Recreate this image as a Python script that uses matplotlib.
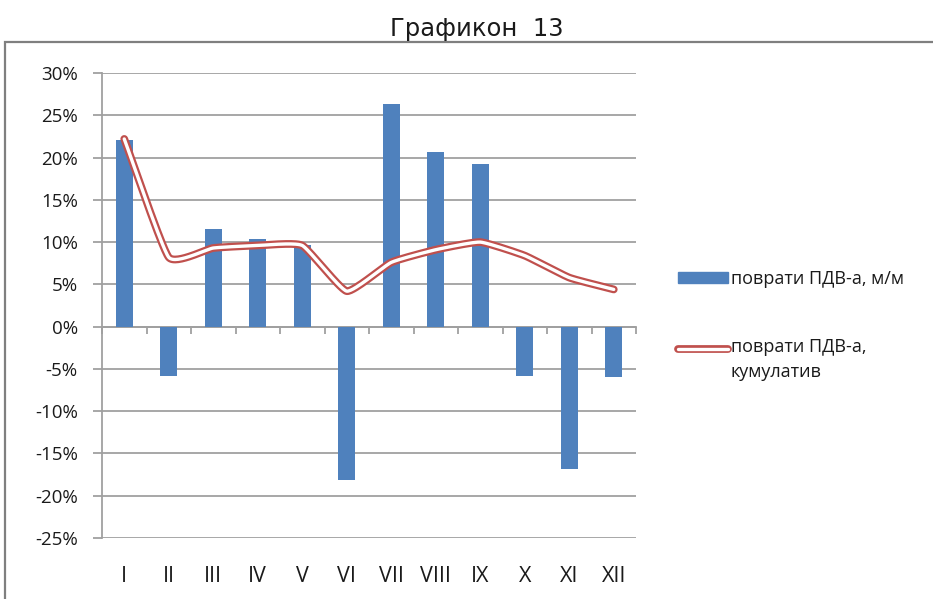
import numpy as np
import matplotlib
matplotlib.use("Agg")
import matplotlib.pyplot as plt
import matplotlib.patheffects as pe
from matplotlib.patches import Rectangle, Patch
from matplotlib.legend_handler import HandlerLine2D
from matplotlib.ticker import FuncFormatter, FixedLocator

months = ["I", "II", "III", "IV", "V", "VI", "VII", "VIII", "IX", "X", "XI", "XII"]
mm = [22.1, -5.8, 11.5, 10.4, 9.7, -18.1, 26.3, 20.7, 19.2, -5.8, -16.8, -6.0]
cum = [22.2, 8.2, 9.3, 9.6, 9.6, 4.2, 7.6, 9.1, 10.0, 8.4, 5.8, 4.4]
title = "Графикон  13"
label_mm = "поврати ПДВ-а, м/м"
label_cum = "поврати ПДВ-а,\nкумулатив"

BLUE = "#4F81BD"
RED = "#C0504D"
GRID = "#A0A0A0"
TXT = "#1a1a1a"


def smooth(x, y, n=30, t=0.22):
    x = np.asarray(x, float)
    y = np.asarray(y, float)
    px = np.concatenate([[2 * x[0] - x[1]], x, [2 * x[-1] - x[-2]]])
    py = np.concatenate([[2 * y[0] - y[1]], y, [2 * y[-1] - y[-2]]])
    xs, ys = [], []
    for i in range(1, len(px) - 2):
        p0, p1, p2, p3 = [np.array([px[j], py[j]]) for j in (i - 1, i, i + 1, i + 2)]
        c1 = p1 + (p2 - p0) * t / 3
        c2 = p2 - (p3 - p1) * t / 3
        s = np.linspace(0, 1, n, endpoint=(i == len(px) - 3))
        b = ((1 - s) ** 3)[:, None] * p1 + (3 * (1 - s) ** 2 * s)[:, None] * c1 \
            + (3 * (1 - s) * s ** 2)[:, None] * c2 + (s ** 3)[:, None] * p2
        xs.append(b[:, 0]); ys.append(b[:, 1])
    return np.concatenate(xs), np.concatenate(ys)


class RaisedLine(HandlerLine2D):
    def __init__(self, dy, **kw):
        super().__init__(**kw)
        self.dy = dy

    def create_artists(self, legend, orig_handle, xdescent, ydescent, width,
                       height, fontsize, trans):
        arts = super().create_artists(legend, orig_handle, xdescent, ydescent,
                                      width, height, fontsize, trans)
        for a in arts:
            a.set_ydata(np.asarray(a.get_ydata()) + self.dy)
        return arts


fig = plt.figure(figsize=(9.33, 5.99), dpi=100)
fig.patch.set_facecolor("white")

# chart frame
fig.add_artist(Rectangle((5 / 933, -0.05), 1.0, 1 - 42 / 599 + 0.05,
                         transform=fig.transFigure, fill=False,
                         edgecolor="#7f7f7f", linewidth=1.6))
fig.text(477 / 933, 1 - 29 / 599, title, ha="center", va="center",
         fontsize=17.5, family="DejaVu Sans", color=TXT)

ax = fig.add_axes([102 / 933, 1 - 538 / 599, (636 - 102) / 933, (538 - 73) / 599])
x = np.arange(len(months))
ax.bar(x, mm, width=0.38, color=BLUE, zorder=3)
sx, sy = smooth(x, cum)
cum_line, = ax.plot(sx, sy, color="white", lw=2.4, solid_capstyle="round",
                    solid_joinstyle="round", zorder=5,
                    path_effects=[pe.Stroke(linewidth=5.6, foreground=RED),
                                  pe.Normal()])

ax.set_xlim(-0.5, len(months) - 0.5)
ax.set_ylim(-25, 30)
ax.set_yticks(np.arange(-25, 31, 5))
ax.yaxis.set_major_formatter(FuncFormatter(lambda v, p: f"{int(round(v))}%"))
ax.grid(axis="y", color=GRID, linewidth=1.3, zorder=0)
ax.set_axisbelow(True)
for s in ("top", "right", "bottom"):
    ax.spines[s].set_visible(False)
ax.spines["left"].set_color(GRID)
ax.spines["left"].set_linewidth(1.3)
ax.tick_params(axis="y", direction="out", length=6.5, color=GRID, width=1.3,
               labelsize=13.5, labelcolor=TXT, pad=11)
ax.set_xticks(x)
ax.set_xticklabels(months)
ax.tick_params(axis="x", length=0, pad=20, labelsize=15.5, labelcolor=TXT)
for lab in ax.get_xticklabels() + ax.get_yticklabels():
    lab.set_family("Open Sans")

sec = ax.secondary_xaxis(25 / 55)
sec.spines["bottom"].set_color(GRID)
sec.spines["bottom"].set_linewidth(1.3)
sec.xaxis.set_major_locator(FixedLocator(np.arange(-0.5, len(months), 1.0)))
sec.tick_params(axis="x", direction="out", length=5, color=GRID, width=1.3,
                labelbottom=False)

leg = fig.legend([Patch(color=BLUE), cum_line], [label_mm, label_cum],
                 handler_map={cum_line: RaisedLine(dy=8)},
                 loc="upper left", bbox_to_anchor=(662 / 933, 1 - 254 / 599),
                 frameon=False, handlelength=2.75, handleheight=0.55,
                 labelspacing=2.75, handletextpad=0.15,
                 prop={"family": "Open Sans", "size": 13})
for t in leg.get_texts():
    t.set_color(TXT)
    t.set_linespacing(1.48)

fig.savefig("out.png", dpi=100)
